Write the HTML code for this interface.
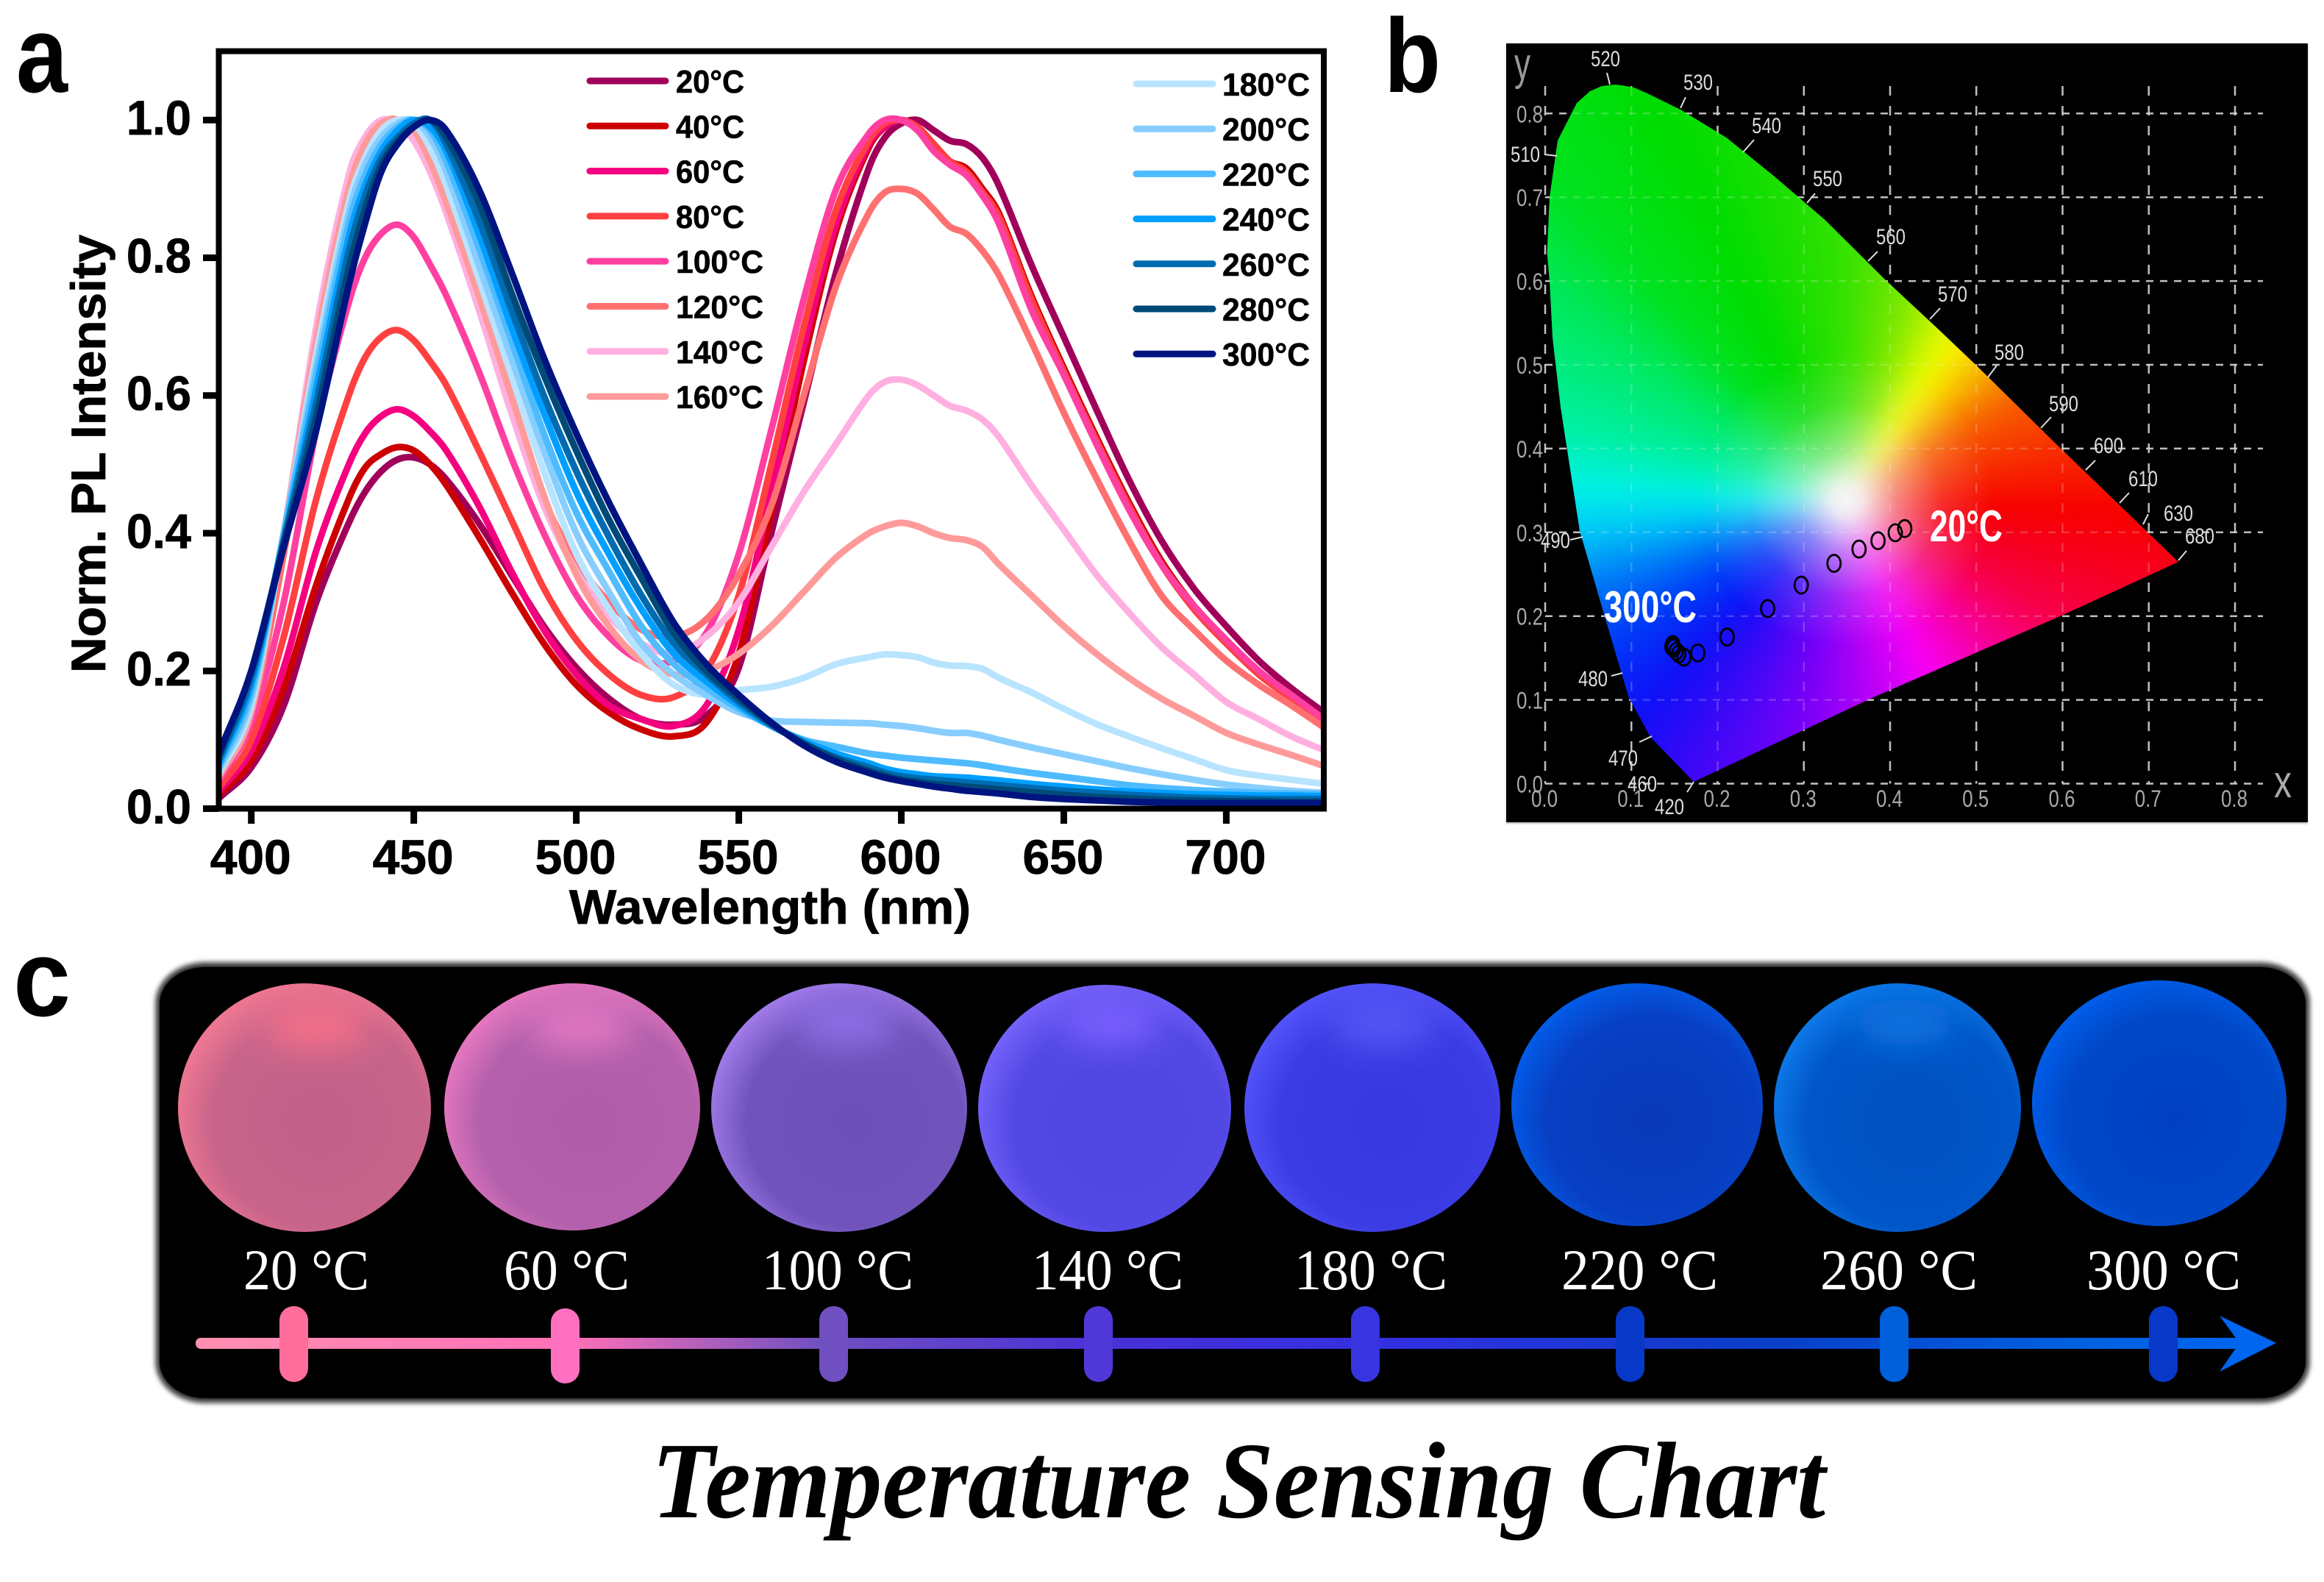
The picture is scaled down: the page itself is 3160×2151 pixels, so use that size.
<!DOCTYPE html>
<html lang="en">
<head>
<meta charset="utf-8">
<title>Temperature Sensing Chart</title>
<style>
html,body{margin:0;padding:0;background:#fff;}
body{position:relative;width:3160px;height:2151px;overflow:hidden;font-family:"Liberation Sans",sans-serif;}
.layer{position:absolute;left:0;top:0;width:3160px;height:2151px;}
#panel-b-bg{position:absolute;left:2048px;top:59px;width:1090px;height:1059px;background:#000;box-shadow:0 2px 2px #bbb;}
#gamut{position:absolute;left:2048px;top:59px;width:1090px;height:1059px;opacity:.97;overflow:hidden;
clip-path:polygon(55.6px 285px,59px 209px,70px 132px,96px 81px,114px 65px,130px 58px,148px 56px,157px 57px,174px 60px,192px 68px,237px 90px,300px 128.5px,366px 182px,433px 239.5px,514px 320px,588px 389px,640px 438.5px,744px 541px,914px 705px,755px 778px,499.5px 889px,255px 1004px,196px 943px,166.5px 889px,137px 789.5px,100px 663px,74px 495px,63px 400px,59px 324px);}
#gamut-hue{position:absolute;left:-80px;top:-80px;width:1250px;height:1219px;filter:blur(14px);
background:conic-gradient(from 0deg at 542px 701px,#38ea00 0deg,#80f000 16deg,#d8ff00 28deg,#ffff00 35deg,#ffc800 44deg,#ff6000 60deg,#ff0000 93deg,#ff0050 120deg,#ff00ff 155deg,#8000ff 190deg,#1010ff 224deg,#0040ff 240deg,#0080ff 252deg,#00c8ff 262deg,#00f8f0 272deg,#00f8a8 285deg,#00f060 305deg,#00ea20 318deg,#00e400 335deg,#38ea00 360deg);}
#gamut-white{position:absolute;left:0;top:0;width:1090px;height:1059px;
background:radial-gradient(circle at 462px 621px,#fff 0,rgba(255,255,255,.92) 22px,rgba(255,255,255,.5) 70px,rgba(255,255,255,.16) 130px,rgba(255,255,255,0) 200px);}
text{font-family:"Liberation Sans",sans-serif;}
.tk{font-weight:bold;font-size:66px;fill:#000;stroke:#000;stroke-width:.8;}
.lg{font-weight:bold;font-size:44px;fill:#000;stroke:#000;stroke-width:.6;}
.cie{font-size:30px;fill:#ddd;text-anchor:middle;}
.cieax{font-size:32px;fill:#a8a8a8;text-anchor:middle;}
.ph{font-family:"Liberation Serif",serif;font-size:78px;fill:#fff;}
</style>
</head>
<body>
<div id="panel-b-bg"></div>
<svg id="grid-under" class="layer" viewBox="0 0 3160 2151"></svg>
<div id="gamut"><div id="gamut-hue"></div><div id="gamut-white"></div></div>
<svg id="main" class="layer" viewBox="0 0 3160 2151" xmlns="http://www.w3.org/2000/svg">
<defs>
<clipPath id="plot-clip"><rect x="297.5" y="69.6" width="1502.5" height="1029.9"/></clipPath>
<clipPath id="pc1"><ellipse cx="414" cy="1506" rx="172" ry="169"/></clipPath>
<clipPath id="pc2"><ellipse cx="778" cy="1505" rx="174" ry="168"/></clipPath>
<clipPath id="pc3"><ellipse cx="1141" cy="1506" rx="174" ry="169"/></clipPath>
<clipPath id="pc4"><ellipse cx="1502" cy="1507" rx="172" ry="168"/></clipPath>
<clipPath id="pc5"><ellipse cx="1866" cy="1506" rx="174" ry="169"/></clipPath>
<clipPath id="pc7"><ellipse cx="2580" cy="1506" rx="168" ry="169"/></clipPath>
<filter id="soft" x="-5%" y="-5%" width="110%" height="110%"><feGaussianBlur stdDeviation="3"/></filter>
<filter id="glow" x="-60%" y="-60%" width="220%" height="220%"><feGaussianBlur stdDeviation="22"/></filter>
<linearGradient id="arrow-grad" gradientUnits="userSpaceOnUse" x1="266" y1="0" x2="3095" y2="0">
<stop offset="0" stop-color="#FF90B0"/><stop offset=".18" stop-color="#FF70B8"/><stop offset=".3" stop-color="#7050C0"/><stop offset=".44" stop-color="#4830D8"/><stop offset=".58" stop-color="#3030E0"/><stop offset=".76" stop-color="#0840C8"/><stop offset=".9" stop-color="#0060E0"/><stop offset="1" stop-color="#0066F0"/>
</linearGradient>
<radialGradient id="ph1" cx=".56" cy=".56" r=".62"><stop offset="0" stop-color="#C06088"/><stop offset=".68" stop-color="#C8648A"/><stop offset="1" stop-color="#F87C94"/></radialGradient>
<radialGradient id="ph2" cx=".56" cy=".56" r=".62"><stop offset="0" stop-color="#B05CA8"/><stop offset=".68" stop-color="#B460AC"/><stop offset="1" stop-color="#F07CC4"/></radialGradient>
<radialGradient id="ph3" cx=".56" cy=".56" r=".62"><stop offset="0" stop-color="#6C50B8"/><stop offset=".68" stop-color="#7054BC"/><stop offset="1" stop-color="#AC84F4"/></radialGradient>
<radialGradient id="ph4" cx=".56" cy=".56" r=".62"><stop offset="0" stop-color="#4E46E0"/><stop offset=".68" stop-color="#5248E4"/><stop offset="1" stop-color="#7C68FF"/></radialGradient>
<radialGradient id="ph5" cx=".56" cy=".56" r=".62"><stop offset="0" stop-color="#3838E0"/><stop offset=".68" stop-color="#3C3CE4"/><stop offset="1" stop-color="#5858FF"/></radialGradient>
<radialGradient id="ph6" cx=".56" cy=".56" r=".62"><stop offset="0" stop-color="#0838B8"/><stop offset=".68" stop-color="#0840C4"/><stop offset="1" stop-color="#0062F0"/></radialGradient>
<radialGradient id="ph7" cx=".56" cy=".56" r=".62"><stop offset="0" stop-color="#0050C0"/><stop offset=".68" stop-color="#0056C8"/><stop offset="1" stop-color="#1080F0"/></radialGradient>
<radialGradient id="ph8" cx=".56" cy=".56" r=".62"><stop offset="0" stop-color="#0040C0"/><stop offset=".68" stop-color="#0048C8"/><stop offset="1" stop-color="#0062F0"/></radialGradient>
</defs>

<!-- panel letters -->
<text x="22" y="125" font-size="148" font-weight="bold" textLength="70" lengthAdjust="spacingAndGlyphs">a</text>
<text x="1882" y="125" font-size="143" font-weight="bold" textLength="77" lengthAdjust="spacingAndGlyphs">b</text>
<text x="18" y="1381" font-size="148" font-weight="bold" textLength="78" lengthAdjust="spacingAndGlyphs">c</text>

<!-- panel a -->
<g id="curves" clip-path="url(#plot-clip)"></g>
<rect x="297.5" y="69.6" width="1502.5" height="1029.9" fill="none" stroke="#000" stroke-width="8"/>
<g id="axes-a"></g>
<g id="legend-a"></g>
<text x="774" y="1256" font-size="66" font-weight="bold" textLength="546" lengthAdjust="spacingAndGlyphs" stroke="#000" stroke-width=".8">Wavelength (nm)</text>
<text transform="translate(143,915) rotate(-90)" font-size="66" font-weight="bold" textLength="596" lengthAdjust="spacingAndGlyphs" stroke="#000" stroke-width=".8">Norm. PL Intensity</text>

<!-- panel b static annotation -->
<g id="cie-grid-top"></g>
<g stroke="#ddd" stroke-width="2">
<path d="M2185 99L2189 115M2292 132L2285 147M2385 190L2370 207M2468 263L2457 276M2553 342L2540 355M2638 419L2624 434M2715 497L2703 513M2789 567L2775 582M2849 626L2836 639M2895 670L2882 684M2921 699L2914 713M2973 749L2962 762M2100 210L2117 212M2135 734L2152 730M2191 919L2206 915M2229 1009L2246 1001M2294 1077L2303 1063" fill="none"/>
</g>
<g>
<text class="cie" x="2183" y="90" textLength="40" lengthAdjust="spacingAndGlyphs">520</text>
<text class="cie" x="2309" y="122" textLength="40" lengthAdjust="spacingAndGlyphs">530</text>
<text class="cie" x="2402" y="181" textLength="40" lengthAdjust="spacingAndGlyphs">540</text>
<text class="cie" x="2485" y="253" textLength="40" lengthAdjust="spacingAndGlyphs">550</text>
<text class="cie" x="2571" y="332" textLength="40" lengthAdjust="spacingAndGlyphs">560</text>
<text class="cie" x="2655" y="410" textLength="40" lengthAdjust="spacingAndGlyphs">570</text>
<text class="cie" x="2732" y="489" textLength="40" lengthAdjust="spacingAndGlyphs">580</text>
<text class="cie" x="2806" y="559" textLength="40" lengthAdjust="spacingAndGlyphs">590</text>
<text class="cie" x="2867" y="616" textLength="40" lengthAdjust="spacingAndGlyphs">600</text>
<text class="cie" x="2914" y="661" textLength="40" lengthAdjust="spacingAndGlyphs">610</text>
<text class="cie" x="2962" y="708" textLength="40" lengthAdjust="spacingAndGlyphs">630</text>
<text class="cie" x="2991" y="739" textLength="40" lengthAdjust="spacingAndGlyphs">680</text>
<text class="cie" x="2074" y="220" textLength="40" lengthAdjust="spacingAndGlyphs">510</text>
<text class="cie" x="2115" y="745" textLength="40" lengthAdjust="spacingAndGlyphs">490</text>
<text class="cie" x="2166" y="933" textLength="40" lengthAdjust="spacingAndGlyphs">480</text>
<text class="cie" x="2207" y="1041" textLength="40" lengthAdjust="spacingAndGlyphs">470</text>
<text class="cie" x="2233" y="1076" textLength="40" lengthAdjust="spacingAndGlyphs">460</text>
<text class="cie" x="2270" y="1107" textLength="40" lengthAdjust="spacingAndGlyphs">420</text>
</g>
<g id="cie-axes"></g>
<text x="2070" y="108" font-size="62" fill="#999" text-anchor="middle" textLength="22" lengthAdjust="spacingAndGlyphs">y</text>
<text x="3104" y="1084" font-size="62" fill="#aaa" text-anchor="middle" textLength="24" lengthAdjust="spacingAndGlyphs">x</text>
<g id="cie-points"></g>
<text x="2624" y="736" font-size="60" font-weight="bold" fill="#fff" textLength="99" lengthAdjust="spacingAndGlyphs">20°C</text>
<text x="2181" y="846" font-size="60" font-weight="bold" fill="#fff" textLength="126" lengthAdjust="spacingAndGlyphs">300°C</text>

<!-- panel c -->
<rect x="213" y="1310" width="2926" height="596" rx="66" ry="54" fill="#000" stroke="#666" stroke-width="5" filter="url(#soft)"/>
<rect x="217" y="1315" width="2918" height="586" rx="62" ry="50" fill="#000"/>

<g>
<ellipse cx="414" cy="1506" rx="172" ry="169" fill="url(#ph1)"/>
<g clip-path="url(#pc1)"><ellipse cx="430" cy="1395" rx="70" ry="32" fill="#F47088" filter="url(#glow)"/></g>
<ellipse cx="778" cy="1505" rx="174" ry="168" fill="url(#ph2)"/>
<g clip-path="url(#pc2)"><ellipse cx="790" cy="1395" rx="70" ry="30" fill="#E478C4" filter="url(#glow)"/></g>
<ellipse cx="1141" cy="1506" rx="174" ry="169" fill="url(#ph3)"/>
<g clip-path="url(#pc3)"><ellipse cx="1150" cy="1390" rx="70" ry="30" fill="#9070E8" filter="url(#glow)"/></g>
<ellipse cx="1502" cy="1507" rx="172" ry="168" fill="url(#ph4)"/>
<g clip-path="url(#pc4)"><ellipse cx="1510" cy="1390" rx="70" ry="30" fill="#7C60FF" filter="url(#glow)"/></g>
<ellipse cx="1866" cy="1506" rx="174" ry="169" fill="url(#ph5)"/>
<g clip-path="url(#pc5)"><ellipse cx="1880" cy="1390" rx="70" ry="30" fill="#5858F8" filter="url(#glow)"/></g>
<ellipse cx="2226" cy="1502" rx="171" ry="165" fill="url(#ph6)"/>
<ellipse cx="2580" cy="1506" rx="168" ry="169" fill="url(#ph7)"/>
<g clip-path="url(#pc7)"><ellipse cx="2590" cy="1390" rx="70" ry="30" fill="#1074E0" filter="url(#glow)"/></g>
<ellipse cx="2936" cy="1500" rx="173" ry="167" fill="url(#ph8)"/>
</g>

<g>
<text class="ph" x="331" y="1753" textLength="171" lengthAdjust="spacingAndGlyphs">20 °C</text>
<text class="ph" x="685" y="1753" textLength="171" lengthAdjust="spacingAndGlyphs">60 °C</text>
<text class="ph" x="1036" y="1753" textLength="206" lengthAdjust="spacingAndGlyphs">100 °C</text>
<text class="ph" x="1403" y="1753" textLength="206" lengthAdjust="spacingAndGlyphs">140 °C</text>
<text class="ph" x="1760" y="1753" textLength="208" lengthAdjust="spacingAndGlyphs">180 °C</text>
<text class="ph" x="2123" y="1753" textLength="213" lengthAdjust="spacingAndGlyphs">220 °C</text>
<text class="ph" x="2475" y="1753" textLength="214" lengthAdjust="spacingAndGlyphs">260 °C</text>
<text class="ph" x="2837" y="1753" textLength="210" lengthAdjust="spacingAndGlyphs">300 °C</text>
</g>

<g>
<rect x="266" y="1819" width="2790" height="15" rx="7" fill="url(#arrow-grad)"/>
<polygon points="3095,1826 3018,1789 3045,1826 3018,1865" fill="#0066F0"/>
<rect x="380" y="1776" width="39" height="103" rx="19" fill="#FF6E9A"/>
<rect x="749" y="1779" width="39" height="102" rx="19" fill="#FF70C0"/>
<rect x="1114" y="1776" width="39" height="103" rx="19" fill="#7050C0"/>
<rect x="1474" y="1776" width="39" height="103" rx="19" fill="#5038D8"/>
<rect x="1837" y="1776" width="39" height="103" rx="19" fill="#3835E0"/>
<rect x="2197" y="1776" width="39" height="103" rx="19" fill="#0838C8"/>
<rect x="2556" y="1776" width="39" height="103" rx="19" fill="#0060DC"/>
<rect x="2922" y="1776" width="39" height="103" rx="19" fill="#0838C8"/>
</g>

<text x="886" y="2063" font-size="148" font-style="italic" font-weight="bold" textLength="1596" lengthAdjust="spacingAndGlyphs" style="font-family:'Liberation Serif',serif">Temperature Sensing Chart</text>
</svg>

<script>
// ---- Panel a data ----
const wavelengths = [390,400,410,420,430,435,440,445,450,455,460,470,480,490,500,510,520,530,540,550,560,570,580,590,595,600,605,610,615,620,625,630,640,650,660,670,680,690,700,710,720,730];
const temp20 = [.015,.06,.15,.30,.415,.46,.49,.507,.51,.50,.478,.415,.34,.265,.205,.16,.13,.122,.135,.205,.40,.59,.78,.93,.975,.995,1.0,.985,.97,.965,.945,.905,.79,.685,.58,.478,.39,.32,.265,.215,.175,.14];
const temp40 = [.02,.07,.175,.325,.45,.495,.515,.525,.52,.50,.47,.395,.315,.24,.18,.14,.115,.105,.125,.225,.43,.65,.84,.96,.99,1.0,.99,.965,.94,.93,.90,.865,.745,.64,.54,.445,.36,.295,.245,.2,.165,.128];
const temp60 = [.025,.085,.205,.375,.50,.545,.57,.58,.57,.548,.52,.44,.345,.26,.195,.15,.13,.12,.15,.26,.46,.67,.85,.965,.99,1.0,.99,.965,.94,.925,.895,.86,.74,.635,.535,.44,.355,.29,.24,.195,.16,.125];
const temp80 = [.03,.10,.25,.45,.60,.655,.685,.695,.68,.65,.615,.52,.42,.32,.245,.195,.165,.162,.20,.31,.50,.70,.87,.97,.995,1.0,.99,.965,.94,.925,.895,.86,.74,.635,.535,.44,.355,.29,.24,.195,.16,.127];
const temp100 = [.04,.125,.30,.55,.735,.80,.835,.848,.83,.79,.745,.635,.51,.40,.31,.25,.215,.215,.255,.37,.55,.74,.90,.98,1.0,1.0,.985,.955,.935,.92,.89,.85,.725,.63,.53,.435,.355,.295,.245,.2,.165,.13];
const temp120 = [.045,.14,.37,.66,.89,.96,.995,1.0,.975,.93,.87,.73,.585,.45,.36,.30,.26,.25,.275,.34,.44,.60,.76,.865,.895,.90,.893,.87,.845,.835,.81,.775,.678,.575,.48,.39,.31,.26,.215,.18,.15,.118];
const temp140 = [.05,.15,.40,.70,.92,.975,1.0,.995,.97,.925,.865,.725,.575,.44,.345,.28,.24,.225,.25,.30,.38,.46,.53,.60,.62,.623,.615,.60,.585,.578,.565,.54,.47,.405,.34,.285,.235,.195,.155,.13,.105,.085];
const temp160 = [.045,.14,.40,.68,.90,.965,.995,1.0,.985,.94,.88,.745,.60,.455,.34,.265,.215,.195,.20,.225,.265,.315,.365,.40,.41,.415,.41,.40,.393,.39,.38,.355,.31,.265,.225,.19,.16,.135,.11,.093,.078,.062];
const temp180 = [.05,.15,.40,.66,.88,.945,.985,1.0,.995,.96,.905,.77,.63,.49,.37,.29,.225,.18,.165,.172,.177,.19,.21,.22,.224,.223,.22,.212,.208,.207,.203,.19,.169,.145,.123,.105,.088,.072,.056,.048,.042,.036];
const temp200 = [.055,.16,.40,.645,.865,.935,.975,.995,1.0,.975,.925,.79,.655,.52,.40,.315,.24,.195,.165,.14,.128,.126,.125,.124,.122,.12,.117,.113,.11,.11,.106,.10,.089,.079,.069,.059,.05,.042,.035,.03,.026,.023];
const temp220 = [.06,.17,.40,.63,.85,.92,.965,.99,1.0,.985,.94,.815,.68,.545,.43,.345,.265,.21,.175,.145,.12,.10,.09,.08,.077,.074,.072,.07,.068,.066,.063,.059,.052,.046,.04,.034,.03,.027,.025,.023,.022,.021];
const temp240 = [.065,.18,.39,.61,.83,.905,.955,.985,1.0,.99,.955,.835,.70,.575,.46,.37,.29,.225,.185,.15,.12,.098,.08,.066,.058,.053,.05,.047,.046,.045,.043,.041,.036,.032,.028,.025,.023,.021,.02,.019,.019,.018];
const temp260 = [.07,.19,.39,.59,.81,.89,.945,.975,.995,1.0,.965,.855,.725,.60,.49,.395,.31,.24,.195,.155,.122,.095,.074,.06,.052,.047,.044,.042,.04,.038,.036,.034,.03,.026,.023,.02,.018,.016,.015,.014,.014,.014];
const temp280 = [.075,.20,.385,.57,.785,.87,.935,.97,.99,1.0,.975,.88,.75,.63,.52,.42,.335,.255,.20,.16,.123,.095,.072,.055,.048,.042,.039,.036,.034,.032,.03,.028,.024,.02,.017,.015,.013,.012,.011,.011,.01,.01];
const temp300 = [.08,.20,.38,.55,.76,.85,.925,.965,.99,1.0,.985,.90,.78,.655,.545,.445,.355,.27,.21,.165,.125,.092,.068,.052,.045,.04,.036,.032,.029,.026,.024,.022,.017,.014,.012,.01,.009,.008,.008,.008,.008,.008];
const seriesLabels = ['20°C','40°C','60°C','80°C','100°C','120°C','140°C','160°C','180°C','200°C','220°C','240°C','260°C','280°C','300°C'];
const seriesValues = [temp20,temp40,temp60,temp80,temp100,temp120,temp140,temp160,temp180,temp200,temp220,temp240,temp260,temp280,temp300];
const xTickValues = [400,450,500,550,600,650,700];
const yTickValues = [0,0.2,0.4,0.6,0.8,1.0];

// ---- Panel b data ----
const cieX = [.417,.406,.386,.364,.335,.297,.258,.211,.177,.161,.155,.152,.149,.147,.148];
const cieY = [.3045,.2995,.290,.280,.263,.237,.209,.175,.156,.151,.155,.158,.162,.1635,.166];
const cieTicks = [0,0.1,0.2,0.3,0.4,0.5,0.6,0.7,0.8];

const SVGNS = 'http://www.w3.org/2000/svg';
const seriesColor = ['#A0005A','#CC0000','#F5007F','#FF4040','#FF40A0','#FF7070','#FFB0E0','#FF9A9A','#B8E4FF','#87CEFF','#4FBBFF','#009FFF','#006BB0','#004A78','#001480'];

function xScale(w){ return 297.5 + (w-390)/(730-390)*1502.5; }
function yScale(v){ return 1099.5 - v/1.1*1029.9; }
function cieXScale(v){ return 2101 + v*1172.5; }
function cieYScale(v){ return 1065.5 - v*1139; }

function mk(parent, tag, attrs){
  const el = document.createElementNS(SVGNS, tag);
  for (const k in attrs) el.setAttribute(k, attrs[k]);
  parent.appendChild(el);
  return el;
}

function curvePath(xs, ys){
  const px = xs.map(xScale), py = ys.map(yScale), n = px.length;
  const slope = i => {
    const a = Math.max(i-1,0), b = Math.min(i+1,n-1);
    return (py[b]-py[a])/(px[b]-px[a]);
  };
  let d = 'M'+px[0].toFixed(1)+' '+py[0].toFixed(1);
  for (let i=0;i<n-1;i++){
    const h = (px[i+1]-px[i])/3;
    d += 'C'+(px[i]+h).toFixed(1)+' '+(py[i]+slope(i)*h).toFixed(1)+' '+(px[i+1]-h).toFixed(1)+' '+(py[i+1]-slope(i+1)*h).toFixed(1)+' '+px[i+1].toFixed(1)+' '+py[i+1].toFixed(1);
  }
  return d;
}

// curves
const curvesG = document.getElementById('curves');
seriesValues.forEach(function(vals, i){
  const p = mk(curvesG, 'path', {d:curvePath(wavelengths, vals), fill:'none', stroke:seriesColor[i], 'stroke-width':9, 'stroke-linejoin':'round'});
  
  
});

// axes
const axesG = document.getElementById('axes-a');
xTickValues.forEach(function(t){
  const x = xScale(t);
  const l = mk(axesG, 'line', {x1:x, x2:x, y1:1099.5, y2:1120, stroke:'#000', 'stroke-width':9});
  
  
  const s = mk(axesG, 'text', {x:x-1, y:1188, 'text-anchor':'middle', class:'tk', textLength:110, lengthAdjust:'spacingAndGlyphs'});
  s.textContent = String(t);
  
  
});
yTickValues.forEach(function(t){
  const y = yScale(t);
  const l = mk(axesG, 'line', {x1:276, x2:297.5, y1:y, y2:y, stroke:'#000', 'stroke-width':9});
  
  
  const s = mk(axesG, 'text', {x:260, y:y+20, 'text-anchor':'end', class:'tk', textLength:88, lengthAdjust:'spacingAndGlyphs'});
  s.textContent = t.toFixed(1);
  
  
});

// legend
const legendG = document.getElementById('legend-a');
seriesLabels.forEach(function(lbl, i){
  const col2 = i >= 8;
  const row = col2 ? i-8 : i;
  const y = col2 ? 114 + row*61.2 : 110 + row*61.3;
  const x1 = col2 ? 1545 : 802, x2 = col2 ? 1649 : 905, tx = col2 ? 1662 : 919;
  const l = mk(legendG, 'line', {x1:x1, x2:x2, y1:y, y2:y, stroke:seriesColor[i], 'stroke-width':9, 'stroke-linecap':'round'});
  
  
  const wide = lbl.length > 4;
  const s = mk(legendG, 'text', {x:tx, y:y+16, class:'lg', textLength: wide ? 119 : 93, lengthAdjust:'spacingAndGlyphs'});
  s.textContent = lbl;
  
  
});

// CIE grid
function drawGrid(parent, opacity){
  cieTicks.forEach(function(t){
    const x = cieXScale(t);
    const v = mk(parent, 'line', {x1:x, x2:x, y1:117, y2:1065.5, stroke:'#d8d8d8', 'stroke-width':2.5, 'stroke-dasharray':'13 14', opacity:opacity});
    
    
    const y = cieYScale(t);
    const h = mk(parent, 'line', {x1:2101, x2:3077, y1:y, y2:y, stroke:'#d8d8d8', 'stroke-width':2.5, 'stroke-dasharray':'10 9', opacity:opacity});
    
    
  });
}
drawGrid(document.getElementById('grid-under'), 0.85);
drawGrid(document.getElementById('cie-grid-top'), 0.22);

// CIE axis labels
const cieAxesG = document.getElementById('cie-axes');
cieTicks.forEach(function(t){
  const xl = mk(cieAxesG, 'text', {x:cieXScale(t)-1, y:1097, class:'cieax', textLength:36, lengthAdjust:'spacingAndGlyphs'});
  xl.textContent = t.toFixed(1);
  
  
  const yl = mk(cieAxesG, 'text', {x:2080, y:cieYScale(t)+12, class:'cieax', textLength:36, lengthAdjust:'spacingAndGlyphs'});
  yl.textContent = t.toFixed(1);
  
  
});

// CIE points
const pointsG = document.getElementById('cie-points');
cieX.forEach(function(v, i){
  const e = mk(pointsG, 'ellipse', {cx:cieXScale(v), cy:cieYScale(cieY[i]), rx:9, ry:11.5, fill:'none', stroke:'#000', 'stroke-width':2.8});
  
  
});
</script>
</body>
</html>
